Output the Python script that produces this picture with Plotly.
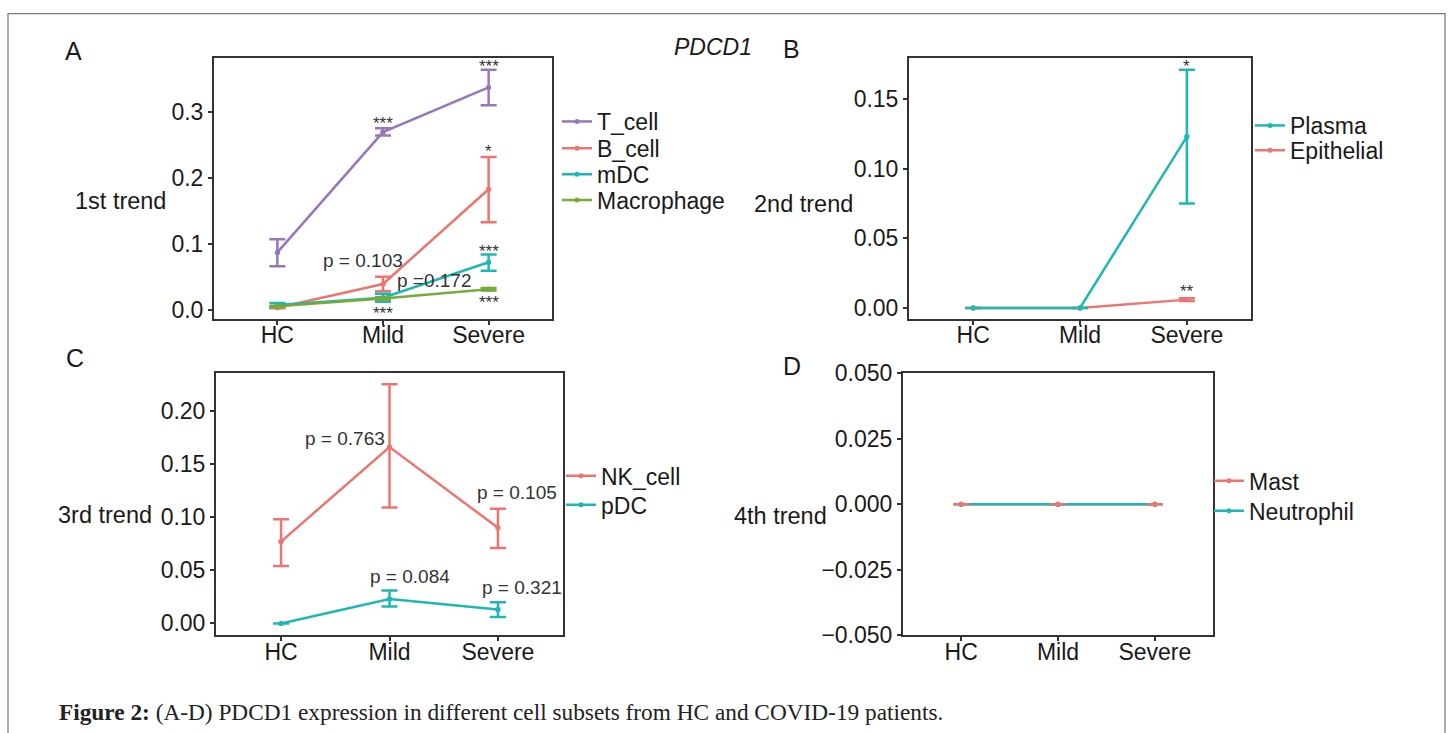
import plotly.graph_objects as go

W, H = 1453, 733

categories = ["HC", "Mild", "Severe"]
xpos = [1, 2, 3]

# Panel A (1st trend)
a_series = ["T_cell", "B_cell", "mDC", "Macrophage"]
a_mean = {"T_cell": [0.087, 0.270, 0.338], "B_cell": [0.003, 0.039, 0.183],
          "mDC": [0.007, 0.018, 0.072], "Macrophage": [0.005, 0.017, 0.031]}
a_low = {"T_cell": [0.066, 0.265, 0.311], "B_cell": [0.002, 0.028, 0.133],
         "mDC": [0.004, 0.012, 0.059], "Macrophage": [0.004, 0.015, 0.029]}
a_high = {"T_cell": [0.107, 0.276, 0.365], "B_cell": [0.004, 0.050, 0.232],
          "mDC": [0.010, 0.024, 0.084], "Macrophage": [0.006, 0.019, 0.033]}

# Panel B (2nd trend)
b_series = ["Plasma", "Epithelial"]
b_mean = {"Plasma": [0.0, 0.0, 0.123], "Epithelial": [0.0, 0.0, 0.006]}
b_low = {"Plasma": [0.0, 0.0, 0.075], "Epithelial": [0.0, 0.0, 0.005]}
b_high = {"Plasma": [0.0, 0.0, 0.171], "Epithelial": [0.0, 0.0, 0.007]}

# Panel C (3rd trend)
c_series = ["NK_cell", "pDC"]
c_mean = {"NK_cell": [0.077, 0.166, 0.090], "pDC": [0.0, 0.023, 0.013]}
c_low = {"NK_cell": [0.054, 0.109, 0.071], "pDC": [0.0, 0.016, 0.006]}
c_high = {"NK_cell": [0.098, 0.225, 0.108], "pDC": [0.0, 0.031, 0.020]}

# Panel D (4th trend)
d_series = ["Mast", "Neutrophil"]
d_mean = {"Mast": [0.0, 0.0, 0.0], "Neutrophil": [0.0, 0.0, 0.0]}
d_low = {"Mast": [0.0, 0.0, 0.0], "Neutrophil": [0.0, 0.0, 0.0]}
d_high = {"Mast": [0.0, 0.0, 0.0], "Neutrophil": [0.0, 0.0, 0.0]}

colors = {"T_cell": "#9677BC", "B_cell": "#EE746F", "mDC": "#1DB8B3", "Macrophage": "#76AA3A",
          "Plasma": "#1DB8B3", "Epithelial": "#EE746F",
          "NK_cell": "#EE746F", "pDC": "#1DB8B3",
          "Mast": "#EE746F", "Neutrophil": "#1DB8B3"}

# significance labels: (x position, y value, text)
a_labels = [(2, 0.289, "***"), (3, 0.376, "***"), (3, 0.247, "*"), (3, 0.095, "***"),
            (3, 0.017, "***"), (2, 0.000, "***"), (1.81, 0.074, "p = 0.103"), (2.49, 0.045, "p =0.172")]
b_labels = [(3, 0.176, "*"), (3, 0.0145, "**")]
c_labels = [(1.59, 0.1744, "p = 0.763"), (3.18, 0.123, "p = 0.105"),
            (2.19, 0.0443, "p = 0.084"), (3.22, 0.034, "p = 0.321")]

# legend entry positions (pixel): name -> (text left x, centre y)
legend_pos = {"T_cell": (597, 120), "B_cell": (597, 147), "mDC": (597, 173), "Macrophage": (597, 199),
              "Plasma": (1290, 124), "Epithelial": (1290, 149),
              "NK_cell": (601, 476), "pDC": (601, 505),
              "Mast": (1249, 481), "Neutrophil": (1249, 511)}


def px(x):
    return x / W


def py(y):
    # vertical placement, corrected for the capture's vertical scaling
    yf = (y - 11.0) / 0.969
    return 1 - yf / H


fig = go.Figure()

panels = [
    ("x", "y", a_series, a_mean, a_low, a_high, [0, 1, 2, 3]),
    ("x2", "y2", b_series, b_mean, b_low, b_high, [1, 0]),
    ("x3", "y3", c_series, c_mean, c_low, c_high, [0, 1]),
    ("x4", "y4", d_series, d_mean, d_low, d_high, [0, 1]),
]

legend_names = {}
all_series = a_series + b_series + c_series + d_series
for i, s in enumerate(all_series):
    legend_names[s] = "legend" if i == 0 else "legend%d" % (i + 1)

for xa, ya, series, mean, low, high, order in panels:
    draw = [series[i] for i in order]
    for s in draw:
        fig.add_trace(go.Scatter(
            x=xpos, y=mean[s], mode="lines+markers", name=s,
            line=dict(color=colors[s], width=2.5),
            marker=dict(color=colors[s], size=5),
            xaxis=xa, yaxis=ya, legend=legend_names[s],
            hoverinfo="skip"))
    err_order = draw if xa != "x4" else list(reversed(draw))
    for s in err_order:
        fig.add_trace(go.Scatter(
            x=xpos, y=mean[s], mode="markers", showlegend=False,
            marker=dict(color=colors[s], size=5),
            error_y=dict(type="data", symmetric=False,
                         array=[h - m for h, m in zip(high[s], mean[s])],
                         arrayminus=[m - l for m, l in zip(mean[s], low[s])],
                         color=colors[s], thickness=2.5, width=8),
            xaxis=xa, yaxis=ya, hoverinfo="skip"))

TXT = "#1a1a1a"
axis_common = dict(showline=True, mirror=True, linewidth=2, linecolor="#333333",
                   ticks="outside", ticklen=4, tickwidth=1.5, tickcolor="#333333",
                   showgrid=False, zeroline=False,
                   tickfont=dict(family="Arial", size=23, color=TXT))

boxes = {
    "": ((214, 552), (56, 318), [-0.0136, 0.383], [0, 0.1, 0.2, 0.3], ".1f"),
    "2": ((909, 1251), (56, 318), [-0.0076, 0.1795], [0, 0.05, 0.10, 0.15], ".2f"),
    "3": ((216, 563), (373, 636), [-0.011, 0.2353], [0, 0.05, 0.10, 0.15, 0.20], ".2f"),
    "4": ((903, 1213), (373, 636), [-0.05, 0.05], [-0.05, -0.025, 0, 0.025, 0.05], ".3f"),
}
layout = {}
for k, ((x0, x1), (y0, y1), yr, yt, fmt) in boxes.items():
    layout["xaxis" + k] = dict(axis_common, domain=[px(x0), px(x1)], range=[0.4, 3.6],
                               tickvals=xpos, ticktext=categories,
                               anchor="y" + k, ticklabelstandoff=-9)
    layout["yaxis" + k] = dict(axis_common, domain=[py(y1), py(y0)], range=yr,
                               tickvals=yt, tickformat=fmt, anchor="x" + k)

legend_common = dict(font=dict(family="Arial", size=23, color=TXT),
                     bgcolor="rgba(0,0,0,0)", xanchor="left", yanchor="middle",
                     itemwidth=30, tracegroupgap=0)
for s in all_series:
    tx, ty = legend_pos[s]
    layout[legend_names[s]] = dict(legend_common, x=px(tx - 40), y=py(ty))

annotations = []


def add_labels(labels, xr, yr):
    for xv, yv, t in labels:
        star = t.startswith("*")
        annotations.append(dict(x=xv, y=yv, xref=xr, yref=yr, text=t, showarrow=False,
                                xanchor="center", yanchor="middle",
                                yshift=-4 if star else 0,
                                font=dict(family="Arial", size=17 if star else 19, color="#333333")))


add_labels(a_labels, "x", "y")
add_labels(b_labels, "x2", "y2")
add_labels(c_labels, "x3", "y3")

# axis titles
for txt, xc, yc in [("1st trend", 120, 200), ("2nd trend", 803, 203),
                    ("3rd trend", 105, 515), ("4th trend", 780, 516)]:
    annotations.append(dict(x=px(xc), y=py(yc), xref="paper", yref="paper", text=txt,
                            showarrow=False, xanchor="center", yanchor="middle",
                            font=dict(family="Arial", size=23.5, color=TXT)))
# panel letters
for txt, xc, yc in [("A", 73, 49), ("B", 792, 47), ("C", 75, 358), ("D", 792, 366)]:
    annotations.append(dict(x=px(xc), y=py(yc), xref="paper", yref="paper", text=txt,
                            showarrow=False, xanchor="center", yanchor="middle",
                            font=dict(family="Arial", size=25, color=TXT)))
# title
annotations.append(dict(x=px(713), y=py(45), xref="paper", yref="paper", text="<i>PDCD1</i>",
                        showarrow=False, xanchor="center", yanchor="middle",
                        font=dict(family="Arial", size=23, color=TXT)))
# caption
annotations.append(dict(x=px(57), y=py(713), xref="paper", yref="paper",
                        text="<b>Figure 2:</b> (A-D) PDCD1 expression in different cell subsets from HC and COVID-19 patients.",
                        showarrow=False, xanchor="left", yanchor="middle",
                        font=dict(family="Liberation Serif", size=23.3, color="#222222")))

fig.update_layout(**layout)
fig.update_layout(
    width=W, height=H, margin=dict(l=0, r=0, t=0, b=0),
    paper_bgcolor="white", plot_bgcolor="white",
    annotations=annotations,
    shapes=[dict(type="rect", xref="paper", yref="paper",
                 x0=px(8), x1=px(1445), y0=-0.05, y1=1 - 0.6 / H,
                 line=dict(color="#777777", width=1.2))],
)

fig.write_html("out.html")
